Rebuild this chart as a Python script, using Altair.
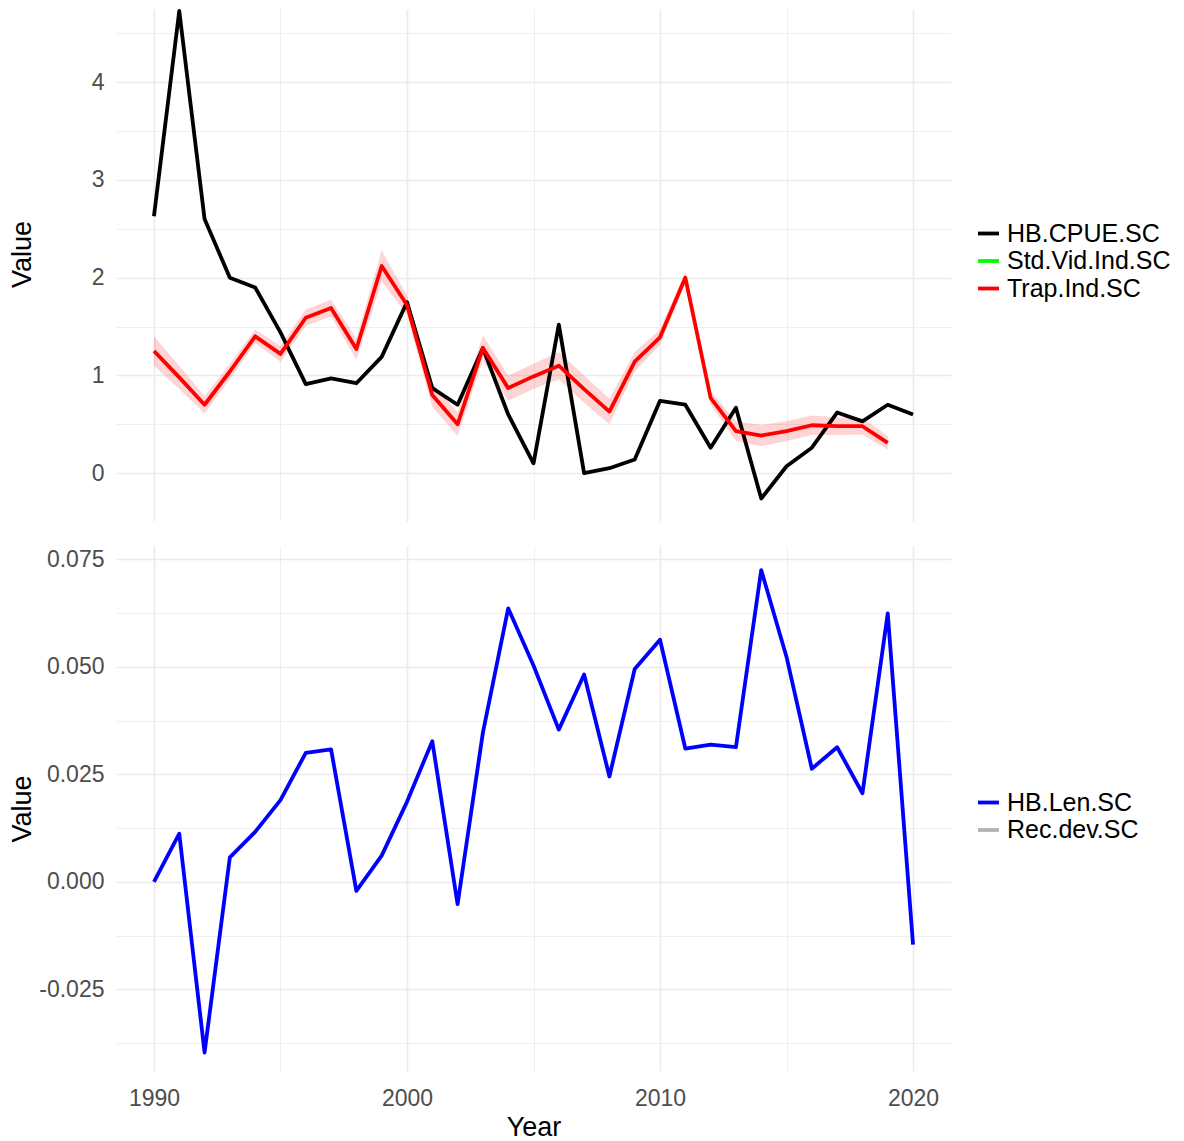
import altair as alt
import pandas as pd

# ---------------- data ----------------
years = list(range(1990, 2021))
hb_cpue = [2.63, 4.73, 2.60, 2.00, 1.90, 1.44, 0.91, 0.97, 0.92, 1.19,
           1.75, 0.87, 0.70, 1.28, 0.60, 0.10, 1.52, 0.00, 0.05, 0.14,
           0.74, 0.70, 0.26, 0.67, -0.26, 0.07, 0.26, 0.62, 0.53, 0.70,
           0.60]

trap_years = list(range(1990, 2020))
trap_ind = [1.25, 0.98, 0.70, 1.04, 1.40, 1.22, 1.59, 1.69, 1.27, 2.12,
            1.72, 0.80, 0.50, 1.28, 0.87, 0.99, 1.10, 0.86, 0.63, 1.14,
            1.39, 2.00, 0.77, 0.43, 0.385, 0.43, 0.49, 0.48, 0.48, 0.31]
trap_half = [0.15, 0.12, 0.09, 0.08, 0.07, 0.08, 0.085, 0.085, 0.11, 0.16,
             0.10, 0.12, 0.12, 0.13, 0.13, 0.13, 0.14, 0.14, 0.13, 0.10,
             0.08, 0.06, 0.07, 0.10, 0.11, 0.10, 0.10, 0.09, 0.085, 0.07]

hb_len = [0.0000, 0.0112, -0.0397, 0.0057, 0.0116, 0.0190, 0.0300, 0.0308,
          -0.0021, 0.0061, 0.0186, 0.0327, -0.0052, 0.0347, 0.0636, 0.0503,
          0.0354, 0.0482, 0.0245, 0.0495, 0.0563, 0.0310, 0.0319, 0.0313,
          0.0725, 0.0523, 0.0263, 0.0313, 0.0206, 0.0624, -0.0146]

top_series = ["HB.CPUE.SC", "Std.Vid.Ind.SC", "Trap.Ind.SC"]
top_colors = ["#000000", "#00FF00", "#FF0000"]
bot_series = ["HB.Len.SC", "Rec.dev.SC"]
bot_colors = ["#0000FF", "#B3B3B3"]

x_ticks = [1990, 1995, 2000, 2005, 2010, 2015, 2020]
top_y_ticks = [-0.5, 0, 0.5, 1, 1.5, 2, 2.5, 3, 3.5, 4, 4.5]
bot_y_ticks = [-0.0375, -0.025, -0.0125, 0, 0.0125, 0.025, 0.0375, 0.05,
               0.0625, 0.075]

# ---------------- tables ----------------
top_df = pd.DataFrame({
    "Year": years + trap_years,
    "Value": hb_cpue + trap_ind,
    "Series": ["HB.CPUE.SC"] * len(years) + ["Trap.Ind.SC"] * len(trap_years),
})
rib_df = pd.DataFrame({
    "Year": trap_years,
    "lo": [v - h for v, h in zip(trap_ind, trap_half)],
    "hi": [v + h for v, h in zip(trap_ind, trap_half)],
})
bot_df = pd.DataFrame({"Year": years, "Value": hb_len,
                       "Series": ["HB.Len.SC"] * len(years)})

# ---------------- styling ----------------
FONT = "Liberation Sans"
GRID = "#EBEBEB"
W = 835
H_TOP = 512
H_BOT = 525
LW = 3.8
TICK_FS = 23
TITLE_FS = 27

x_scale = alt.Scale(domain=[1988.5, 2021.5], nice=False, zero=False)
x_grid_w = {"condition": {"test": "datum.value % 10 == 0", "value": 1.6}, "value": 0.8}

x_axis_top = alt.Axis(values=x_ticks, labels=False, ticks=False, domain=False,
                      title=None, grid=True, gridColor=GRID, gridWidth=x_grid_w,
                      tickSize=0)
x_axis_bot = alt.Axis(values=x_ticks, format="d",
                      labelExpr="datum.value % 10 == 0 ? datum.label : ''",
                      ticks=False, tickSize=0, domain=False, grid=True,
                      gridColor=GRID, gridWidth=x_grid_w,
                      labelFontSize=TICK_FS, labelColor="#4D4D4D", labelFont=FONT,
                      labelPadding=16, title="Year", titleFontSize=TITLE_FS,
                      titleFont=FONT, titleColor="#000000",
                      titleFontWeight="normal", titlePadding=4)

top_y_scale = alt.Scale(domain=[-0.49, 4.75], nice=False, zero=False)
top_y_axis = alt.Axis(values=top_y_ticks,
                      labelExpr="datum.value % 1 == 0 ? format(datum.value, 'd') : ''",
                      ticks=False, tickSize=0, domain=False, grid=True,
                      gridColor=GRID,
                      gridWidth={"condition": {"test": "datum.value % 1 == 0", "value": 1.6},
                                 "value": 0.8},
                      labelFontSize=TICK_FS, labelColor="#4D4D4D", labelFont=FONT,
                      labelPadding=12, title="Value", titleFontSize=TITLE_FS,
                      titleFont=FONT, titleColor="#000000",
                      titleFontWeight="normal", titleX=-94, titleY=H_TOP / 2 - 11,
                      titleAngle=270, titleAlign="center", titleBaseline="middle")

bot_y_scale = alt.Scale(domain=[-0.044, 0.0781], nice=False, zero=False)
major_test = "abs(round(datum.value * 10000) % 250) == 0"
bot_y_axis = alt.Axis(values=bot_y_ticks,
                      labelExpr="(" + major_test + ") ? replace(format(datum.value, '.3f'), '\u2212', '-') : ''",
                      ticks=False, tickSize=0, domain=False, grid=True,
                      gridColor=GRID,
                      gridWidth={"condition": {"test": major_test, "value": 1.6},
                                 "value": 0.8},
                      labelFontSize=TICK_FS, labelColor="#4D4D4D", labelFont=FONT,
                      labelPadding=12, title="Value", titleFontSize=TITLE_FS,
                      titleFont=FONT, titleColor="#000000",
                      titleFontWeight="normal", titleX=-94, titleY=H_BOT / 2,
                      titleAngle=270, titleAlign="center", titleBaseline="middle")


def legend(y):
    return alt.Legend(orient="none", legendX=860, legendY=y, title=None,
                      symbolType="stroke", symbolStrokeWidth=3.8, symbolSize=441,
                      labelFontSize=25, labelFont=FONT, labelColor="#000000",
                      labelOffset=6, labelLimit=400, rowPadding=1.5, padding=0)


# ---------------- top panel ----------------
ribbon = alt.Chart(rib_df).mark_area(color="#FF0000", opacity=0.17).encode(
    x=alt.X("Year:Q", scale=x_scale, axis=x_axis_top),
    y=alt.Y("lo:Q", scale=top_y_scale, axis=top_y_axis),
    y2="hi:Q",
)
top_lines = alt.Chart(top_df).mark_line(strokeWidth=LW, strokeJoin="round").encode(
    x=alt.X("Year:Q", scale=x_scale, axis=x_axis_top),
    y=alt.Y("Value:Q", scale=top_y_scale, axis=top_y_axis),
    color=alt.Color("Series:N",
                    scale=alt.Scale(domain=top_series, range=top_colors),
                    legend=legend(212)),
)
top = alt.layer(ribbon, top_lines).properties(width=W, height=H_TOP)

# ---------------- bottom panel ----------------
bottom = alt.Chart(bot_df).mark_line(strokeWidth=LW, strokeJoin="round").encode(
    x=alt.X("Year:Q", scale=x_scale, axis=x_axis_bot),
    y=alt.Y("Value:Q", scale=bot_y_scale, axis=bot_y_axis),
    color=alt.Color("Series:N",
                    scale=alt.Scale(domain=bot_series, range=bot_colors),
                    legend=legend(244)),
).properties(width=W, height=H_BOT)

chart = alt.vconcat(top, bottom, spacing=25).resolve_scale(
    color="independent"
).properties(
    padding={"top": 1, "left": 0, "right": 0, "bottom": 0}, background="white"
).configure_view(stroke=None, strokeWidth=0)

chart.save("out.html", embed_options={"renderer": "svg", "actions": False})
